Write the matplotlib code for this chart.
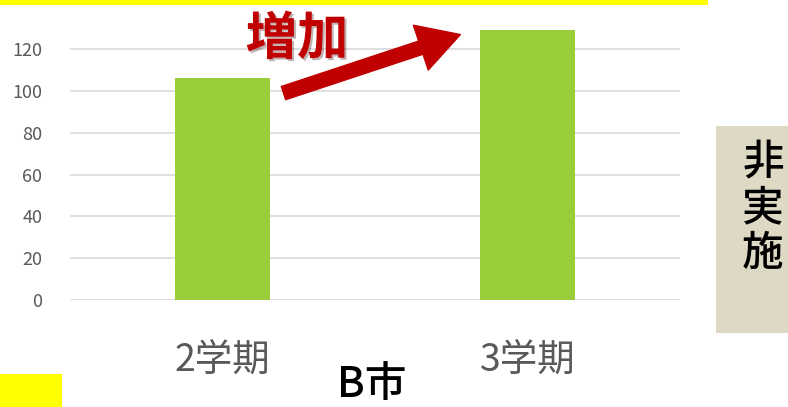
import matplotlib
matplotlib.use("Agg")
import matplotlib.pyplot as plt
import matplotlib.patheffects as pe
from matplotlib.patches import Rectangle

plt.rcParams['font.family'] = ['Noto Sans CJK JP', 'DejaVu Sans']

# B市 の学期別データ
terms = ['2学期', '3学期']
values = [106, 129]
yticks = [0, 20, 40, 60, 80, 100, 120]

fig = plt.figure(figsize=(7.88, 4.07), dpi=100)
ax = fig.add_axes([70 / 788, 107 / 407, 610 / 788, 292.6 / 407])

x = range(len(terms))
ax.bar(x, values, width=0.31, color='#9ACD3A', zorder=3)

ax.set_xlim(-0.5, 1.5)
ax.set_ylim(0, 140)
ax.set_yticks(yticks)
ax.grid(axis='y', color='#D9D9D9', linewidth=1.2, zorder=0)
ax.set_axisbelow(True)
for s in ax.spines.values():
    s.set_visible(False)
ax.tick_params(axis='y', length=0, pad=20, labelsize=13, labelcolor='#595959')
ax.tick_params(axis='x', length=0, pad=30, labelsize=27, labelcolor='#595959')
ax.set_xticks(list(x))
ax.set_xticklabels(terms)

# 増加の矢印
ax.annotate('', xy=(1 - 0.22, values[1] - 2), xytext=(0 + 0.2, values[0] - 7),
            arrowprops=dict(arrowstyle='simple,head_width=1.7,head_length=1.5,tail_width=0.5',
                            mutation_scale=20, color='#C00000', shrinkA=0, shrinkB=0),
            zorder=5)
fig.text(297 / 788, 1 - 39 / 407, '増加', fontsize=37, fontweight='bold', color='#C00000',
         ha='center', va='center',
         path_effects=[pe.SimplePatchShadow(offset=(1.5, -1.5), alpha=0.3), pe.Normal()])

# 市名
fig.text(372 / 788, 1 - 385 / 407, 'B市', fontsize=30, fontweight='medium', color='black',
         ha='center', va='center')

# 装飾の帯
fig.add_artist(Rectangle((0, 1 - 5 / 407), 708 / 788, 5 / 407, transform=fig.transFigure,
                         color='#FFFF00', lw=0))
fig.add_artist(Rectangle((0, 0), 62 / 788, 33 / 407, transform=fig.transFigure,
                         color='#FFFF00', lw=0))
fig.add_artist(Rectangle((716 / 788, 1 - 333 / 407), 72 / 788, 207 / 407,
                         transform=fig.transFigure, color='#DDD9C4', lw=0))
fig.text(763 / 788, 1 - 208 / 407, '非\n実\n施', fontsize=30, fontweight='medium', color='black',
         ha='center', va='center', linespacing=1.08)

fig.savefig('out.png', dpi=100)
